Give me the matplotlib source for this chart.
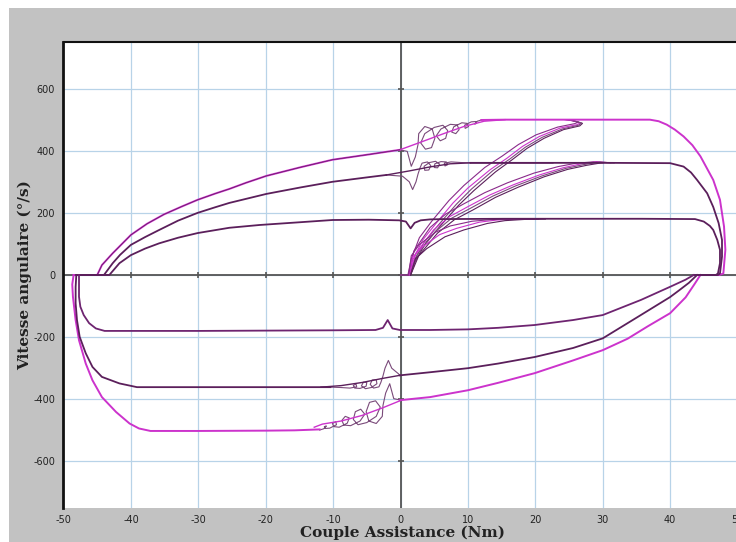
import matplotlib
matplotlib.use("Agg")
import matplotlib.pyplot as plt
from matplotlib.patches import Rectangle

# axis ticks
X_TICKS = [-50, -40, -30, -20, -10, 0, 10, 20, 30, 40, 50]
Y_TICKS = [-600, -400, -200, 0, 200, 400, 600]

# outer loop (500 deg/s)
OUT_UP_X = [-48.5, -45.0, -44.3, -42.7, -40.0, -37.6, -35.1, -32.5, -30.1, -27.5, -25.4, -22.9, -19.9, -14.8, -10.1, -4.7, -0.1]
OUT_UP_Y = [0, 0, 32, 70, 129, 165, 195, 220, 242, 262, 277, 297, 319, 347, 371, 388, 403]
OUT_SPIRAL_X = [-0.1, 1.0, 1.6, 2.2, 2.6, 2.7, 3.6, 4.7, 5.1, 4.6, 3.7, 3.0, 3.6, 5.0, 6.3, 7.0, 6.7, 5.9, 5.3, 6.0,
                7.4, 8.4, 8.7, 8.2, 7.6, 7.9, 9.1, 9.9, 10.1, 9.6, 9.5, 10.5, 11.2, 11.3, 11.0, 11.4, 12.0]
OUT_SPIRAL_Y = [403, 398, 350, 380, 420, 455, 478, 470, 440, 410, 405, 425, 455, 475, 482, 465, 440, 432, 448, 470,
                485, 483, 468, 455, 460, 477, 490, 488, 478, 472, 482, 493, 494, 488, 486, 495, 499]
OUT_SHORT_X = [-0.1, 3.3, 6.4, 9.4, 12.4, 15.5]
OUT_SHORT_Y = [403, 430, 455, 478, 495, 500]
OUT_TOP_X = [12.0, 15.5, 20.5, 25.6, 30.6, 37.0, 38.3, 39.5, 40.7, 42.0, 43.3, 44.5, 46.4, 47.4, 48.0, 48.2, 47.9, 47.3, 44.5]
OUT_TOP_Y = [499, 500, 500, 500, 500, 500, 495, 484, 468, 446, 418, 382, 306, 242, 156, 81, 5, 0, 0]
OUT_LOW_X = [44.5, 43.6, 42.3, 40.0, 36.7, 33.7, 30.0, 25.6, 19.9, 14.5, 10.0, 4.4, -0.1]
OUT_LOW_Y = [0, -30, -72, -123, -165, -205, -242, -275, -316, -347, -371, -393, -403]
OUT_LSPIRAL_X = [0.1, -1.0, -1.6, -2.2, -2.6, -2.7, -3.6, -4.7, -5.1, -4.6, -3.7, -3.0, -3.6, -5.0, -6.3, -7.0, -6.7, -5.9, -5.3, -6.0,
                 -7.4, -8.4, -8.7, -8.2, -7.6, -7.9, -9.1, -9.9, -10.1, -9.6, -9.5, -10.5, -11.2, -11.3, -11.0, -11.4, -12.0]
OUT_LSPIRAL_Y = [-403, -398, -350, -380, -420, -455, -478, -470, -440, -410, -405, -425, -455, -475, -482, -465, -440, -432, -448, -470,
                 -485, -483, -468, -455, -460, -477, -490, -488, -478, -472, -482, -493, -494, -488, -486, -495, -499]
OUT_LSHORT_X = [-0.1, -2.7, -5.7, -8.8, -11.6, -12.8]
OUT_LSHORT_Y = [-405, -428, -452, -470, -480, -490]
OUT_LEFT_X = [-12.0, -15.7, -19.9, -30.0, -37.1, -38.8, -40.2, -42.2, -44.3, -45.7, -46.7, -47.7, -48.2, -48.6, -48.7, -48.5]
OUT_LEFT_Y = [-497, -500, -501, -502, -502, -494, -478, -441, -393, -339, -285, -210, -145, -70, -30, 0]

# middle loop (360 deg/s)
MID_UP_X = [-48.1, -44.0, -42.7, -41.6, -40.0, -37.9, -35.8, -33.0, -30.1, -27.5, -25.4, -19.9, -14.8, -10.1, -4.7, -2.1]
MID_UP_Y = [0, 0, 38, 65, 97, 122, 145, 175, 200, 218, 232, 261, 282, 300, 315, 322]
MID_SPIRAL_X = [-2.1, 0.3, 1.3, 1.8, 2.3, 2.6, 2.9, 3.2, 4.0, 4.5, 4.2, 3.6, 3.5, 4.3, 5.2, 5.8, 5.5, 5.0, 5.1, 6.0,
                6.8, 7.0, 6.6, 6.5, 7.5, 9.0, 10.4]
MID_SPIRAL_Y = [322, 318, 300, 275, 300, 325, 345, 360, 364, 352, 338, 337, 350, 362, 366, 357, 345, 346, 358, 365,
                364, 355, 351, 360, 364, 362, 361]
MID_SHORT_X = [-2.1, 1.3, 4.4, 7.4, 10.4, 22.6]
MID_SHORT_Y = [322, 335, 348, 358, 361, 361]
MID_TOP_X = [10.4, 20.5, 30.6, 40.0, 42.0, 43.1, 44.0, 45.5, 46.4, 47.2, 47.7, 47.7, 47.4, 47.1, 44.0]
MID_TOP_Y = [361, 361, 361, 360, 349, 330, 306, 263, 219, 167, 113, 59, 5, 0, 0]
MID_LOW_X = [44.0, 42.8, 41.3, 40.0, 35.2, 30.0, 25.6, 19.9, 14.5, 10.0, 4.4, -0.1]
MID_LOW_Y = [0, -25, -50, -71, -135, -204, -235, -264, -285, -300, -313, -323]
MID_LSPIRAL_X = [-0.1, -0.3, -1.3, -1.8, -2.3, -2.6, -2.9, -3.2, -4.0, -4.5, -4.2, -3.6, -3.5, -4.3, -5.2, -5.8, -5.5, -5.0, -5.1, -6.0,
                 -6.8, -7.0, -6.6, -6.5, -7.5, -9.0, -10.4]
MID_LSPIRAL_Y = [-323, -318, -300, -275, -300, -325, -345, -360, -364, -352, -338, -337, -350, -362, -366, -357, -345, -346, -358, -365,
                 -364, -355, -351, -360, -364, -362, -361]
MID_LSHORT_X = [-0.1, -2.7, -5.7, -8.8, -11.8]
MID_LSHORT_Y = [-323, -333, -346, -356, -361]
MID_LEFT_X = [-10.4, -19.9, -30.0, -39.1, -41.7, -44.3, -45.7, -46.7, -47.6, -48.0, -48.2, -48.2, -48.1]
MID_LEFT_Y = [-361, -361, -361, -361, -349, -328, -296, -252, -199, -145, -91, -38, 0]

# inner loop (180 deg/s)
IN_UP_X = [-47.7, -43.2, -41.7, -40.0, -37.9, -35.8, -33.0, -30.1, -25.4, -20.9, -14.8, -10.1, -4.7, -0.2, 0.8, 1.5, 2.1, 3.0, 4.4, 6.4]
IN_UP_Y = [0, 0, 38, 64, 85, 102, 120, 135, 152, 161, 170, 177, 178, 176, 172, 150, 168, 176, 179, 180]
IN_TOP_X = [6.4, 15.5, 25.6, 35.7, 43.7, 45.0, 45.9, 46.4, 47.0, 47.4, 47.4, 47.1, 46.8, 43.5]
IN_TOP_Y = [180, 181, 181, 181, 180, 172, 158, 145, 113, 81, 38, 5, 0, 0]
IN_LOW_X = [43.5, 42.3, 40.0, 35.7, 30.0, 25.6, 19.9, 14.5, 10.0, 4.4, -0.1, -1.2, -1.9, -2.6, -3.7, -9.8, -19.9, -30.0, -40.1,
            -43.9, -45.2, -46.2, -47.0, -47.5, -47.7, -47.7, -47.7]
IN_LOW_Y = [0, -15, -38, -80, -129, -145, -161, -170, -175, -177, -177, -172, -145, -170, -177, -178, -179, -180, -180,
            -180, -172, -155, -129, -102, -70, -38, 0]

# start-up traces from the origin
FAN500_X = [
    [0.0, 1.3, 1.8, 3.3, 5.3, 7.8, 10.0, 13.3, 15.8, 18.1, 20.6, 23.7, 26.2, 26.7, 25.6, 24.6],
    [0.0, 1.5, 2.2, 3.8, 6.0, 8.6, 10.9, 14.1, 16.5, 18.8, 21.3, 24.2, 26.6, 27.0, 25.9, 25.1],
    [0.0, 1.1, 1.6, 2.8, 4.7, 7.2, 9.4, 12.5, 15.1, 17.5, 20.1, 23.3, 25.8, 26.4, 25.4, 24.4],
    [0.0, 1.4, 2.0, 3.6, 5.7, 8.3, 10.5, 13.7, 16.2, 18.5, 21.0, 24.0, 26.4, 26.9, 25.8, 24.9],
]
FAN500_Y = [
    [0, 0, 48, 113, 167, 232, 280, 339, 376, 414, 446, 473, 484, 490, 496, 500],
    [0, 0, 45, 105, 160, 224, 272, 332, 370, 408, 440, 468, 480, 488, 495, 500],
    [0, 0, 52, 120, 175, 240, 288, 346, 383, 420, 451, 476, 487, 492, 497, 500],
    [0, 0, 46, 108, 163, 228, 276, 336, 373, 411, 443, 470, 482, 489, 496, 500],
]
FAN360_X = [
    [1.3, 2.3, 4.9, 7.3, 10.0, 13.3, 16.7, 20.6, 24.1, 26.6, 29.1, 30.6],
    [1.5, 2.7, 5.5, 8.0, 10.8, 14.1, 17.5, 21.3, 24.8, 27.6, 30.1, 31.7],
    [1.2, 2.0, 4.4, 6.7, 9.3, 12.5, 15.9, 19.8, 23.4, 26.1, 28.6, 30.1],
    [1.4, 2.5, 5.2, 7.6, 10.4, 13.7, 17.1, 21.0, 24.5, 27.1, 29.6, 31.2],
]
FAN360_Y = [
    [0, 70, 145, 188, 220, 258, 290, 322, 345, 357, 365, 362],
    [0, 62, 135, 178, 210, 250, 283, 316, 340, 353, 362, 361],
    [0, 78, 153, 196, 228, 265, 297, 328, 349, 360, 364, 361],
    [0, 66, 140, 183, 215, 254, 287, 319, 343, 355, 364, 361],
]
FAN180_X = [
    [1.3, 1.8, 3.3, 5.8, 8.3, 11.7, 14.3, 16.5, 20.5],
    [1.5, 2.2, 3.9, 6.6, 9.4, 12.9, 15.5, 18.5, 21.5],
    [1.2, 1.6, 2.8, 5.2, 7.4, 10.6, 13.3, 15.5, 19.5],
]
FAN180_Y = [
    [0, 58, 91, 130, 150, 170, 177, 179, 180],
    [0, 52, 85, 123, 145, 166, 175, 179, 180],
    [0, 62, 98, 138, 158, 173, 178, 180, 180],
]

MAGENTA = '#cc33cc'
DARK = '#5b1f5b'
MID = '#8a2a8a'
THIN = '#7a4a7a'

fig = plt.figure(figsize=(7.36, 5.42), dpi=100)
fig.patch.set_facecolor('white')
fig.patches.append(Rectangle((9 / 736, 0), 1 - 9 / 736, 534 / 542, transform=fig.transFigure,
                             facecolor='#c2c2c2', edgecolor='none', zorder=-5))

ax = fig.add_axes([63.5 / 736, 34 / 542, 674 / 736, 466 / 542])
ax.set_facecolor('white')
ax.set_xlim(-50, 50)
ax.set_ylim(-750, 750)

# grid
for xv in X_TICKS[1:-1]:
    ax.axvline(xv, color='#b8d3e8', lw=0.9, zorder=1)
for yv in Y_TICKS:
    ax.axhline(yv, color='#b8d3e8', lw=0.9, zorder=1)

# centre axes with small ticks
ax.axhline(0, color='#555555', lw=1.3, zorder=2)
ax.axvline(0, color='#555555', lw=1.3, zorder=2)
ax.plot(X_TICKS[1:-1], [0] * len(X_TICKS[1:-1]), ls='none', marker='|', ms=5, mew=1.2, color='#555555', zorder=2)
ax.plot([0] * len(Y_TICKS), Y_TICKS, ls='none', marker='_', ms=5, mew=1.2, color='#555555', zorder=2)

# start-up fans
fan_cols = [MAGENTA, DARK, MID, THIN]
for xs, ys, c in zip(FAN500_X, FAN500_Y, fan_cols):
    ax.plot(xs, ys, color=c, lw=0.8, zorder=3)
for xs, ys, c in zip(FAN360_X, FAN360_Y, fan_cols):
    ax.plot(xs, ys, color=c, lw=0.8, zorder=3)
for xs, ys, c in zip(FAN180_X, FAN180_Y, fan_cols):
    ax.plot(xs, ys, color=c, lw=0.8, zorder=3)

# spirals / transients near zero torque
for xs, ys in [(OUT_SPIRAL_X, OUT_SPIRAL_Y), (MID_SPIRAL_X, MID_SPIRAL_Y),
               (OUT_LSPIRAL_X, OUT_LSPIRAL_Y), (MID_LSPIRAL_X, MID_LSPIRAL_Y)]:
    ax.plot(xs, ys, color=THIN, lw=0.8, zorder=3)
ax.plot(OUT_SHORT_X, OUT_SHORT_Y, color=MAGENTA, lw=1.0, zorder=3)
ax.plot(OUT_LSHORT_X, OUT_LSHORT_Y, color=MAGENTA, lw=1.0, zorder=3)
ax.plot(MID_SHORT_X, MID_SHORT_Y, color=DARK, lw=1.0, zorder=3)
ax.plot(MID_LSHORT_X, MID_LSHORT_Y, color=DARK, lw=1.0, zorder=3)

# main loops
ax.plot(OUT_UP_X, OUT_UP_Y, color=MAGENTA, lw=1.4, zorder=4)
ax.plot(OUT_UP_X, OUT_UP_Y, color=DARK, lw=0.5, zorder=4)
ax.plot(OUT_TOP_X, OUT_TOP_Y, color=MAGENTA, lw=1.4, zorder=4)
ax.plot(OUT_LOW_X, OUT_LOW_Y, color=MAGENTA, lw=1.4, zorder=4)
ax.plot(OUT_LEFT_X, OUT_LEFT_Y, color=MAGENTA, lw=1.4, zorder=4)
ax.plot(MID_UP_X, MID_UP_Y, color=DARK, lw=1.3, zorder=4)
ax.plot(MID_TOP_X, MID_TOP_Y, color=DARK, lw=1.3, zorder=4)
ax.plot(MID_LOW_X, MID_LOW_Y, color=DARK, lw=1.3, zorder=4)
ax.plot(MID_LEFT_X, MID_LEFT_Y, color=DARK, lw=1.3, zorder=4)
ax.plot(IN_UP_X + IN_TOP_X, IN_UP_Y + IN_TOP_Y, color=DARK, lw=1.3, zorder=4)
ax.plot(IN_LOW_X, IN_LOW_Y, color='#6e2470', lw=1.3, zorder=4)

# frame
for side in ['right', 'bottom']:
    ax.spines[side].set_visible(False)
ax.spines['left'].set_linewidth(2.0)
ax.spines['left'].set_color('#111111')
ax.spines['top'].set_linewidth(1.5)
ax.spines['top'].set_color('#111111')

ax.set_xticks(X_TICKS)
ax.set_xticklabels([str(v) for v in X_TICKS])
ax.set_yticks(Y_TICKS)
ax.set_yticklabels([str(v) for v in Y_TICKS])
ax.tick_params(length=0, labelsize=7, labelcolor='#222222')
ax.tick_params(axis='x', pad=5)
ax.tick_params(axis='y', pad=6)

fig.text(403 / 736, 1 - 533 / 542, 'Couple Assistance (Nm)', ha='center', va='center',
         family='DejaVu Serif', fontweight='bold', fontsize=11, color='#222222')
fig.text(25 / 736, 1 - 275 / 542, 'Vitesse angulaire (°/s)', ha='center', va='center', rotation=90,
         family='DejaVu Serif', fontweight='bold', fontsize=11, color='#222222')

fig.savefig('out.png', dpi=100)
